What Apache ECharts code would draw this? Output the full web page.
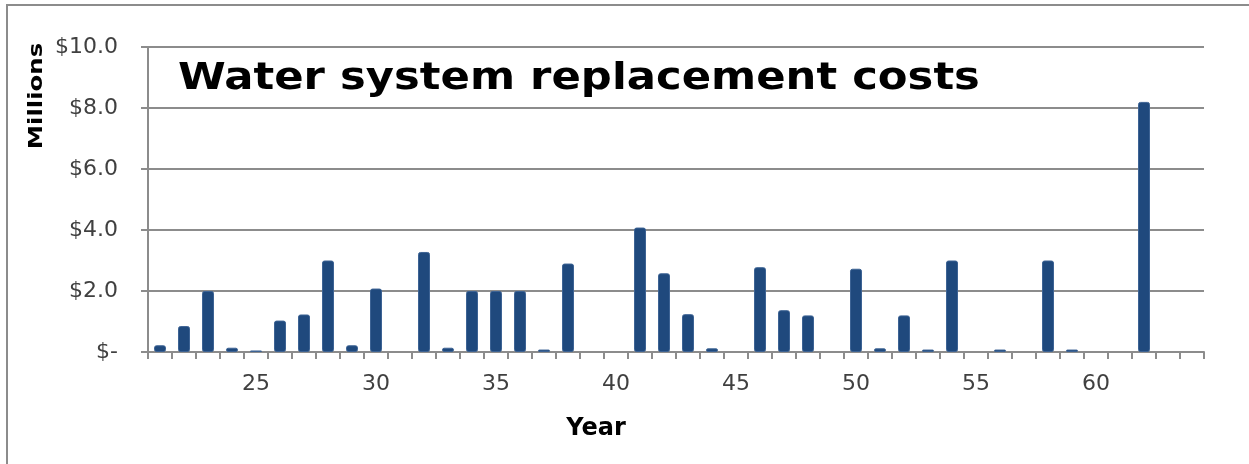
<!DOCTYPE html>
<html>
<head>
<meta charset="utf-8">
<script src="https://cdn.jsdelivr.net/npm/echarts@6/dist/echarts.min.js"></script>
<style>
  html, body { margin: 0; padding: 0; background: #fff; }
  #chart { width: 1249px; height: 464px; }
</style>
</head>
<body>
<div id="chart"></div>
<script>
// Years of the replacement schedule
const years = [21, 22, 23, 24, 25, 26, 27, 28, 29, 30, 31, 32, 33, 34, 35, 36, 37, 38, 39, 40, 41, 42,
               43, 44, 45, 46, 47, 48, 49, 50, 51, 52, 53, 54, 55, 56, 57, 58, 59, 60, 61, 62, 63, 64];
// Replacement cost per year, in millions of dollars
const costs = [0.22, 0.85, 2.0, 0.14, 0.05, 1.03, 1.23, 3.0, 0.22, 2.08, 0, 3.28, 0.14, 2.0, 2.0, 2.0, 0.08, 2.9, 0, 0, 4.08, 2.58,
               1.24, 0.12, 0, 2.78, 1.37, 1.2, 0, 2.73, 0.12, 1.2, 0.08, 3.0, 0, 0.08, 0, 3.0, 0.08, 0, 0, 8.2, 0, 0];
// Value axis ticks (millions)
const yTicks = [0, 2, 4, 6, 8, 10];

const FONT = 'DejaVu Sans';
const GRAY = '#8c8c8c';

const chart = echarts.init(document.getElementById('chart'), null, { renderer: 'canvas' });
chart.setOption({
  animation: false,
  backgroundColor: '#fff',
  grid: { left: 148, right: 45, top: 47, bottom: 112 },
  xAxis: {
    type: 'category',
    data: years,
    boundaryGap: true,
    axisLine: { lineStyle: { color: GRAY, width: 2 } },
    axisTick: { show: true, interval: 0, length: 7, lineStyle: { color: GRAY, width: 2 } },
    axisLabel: {
      interval: (i, v) => Number(v) % 5 === 0,
      margin: 21,
      fontFamily: FONT, fontSize: 22, color: '#404040'
    },
    splitLine: { show: false }
  },
  yAxis: {
    type: 'value',
    min: yTicks[0],
    max: yTicks[yTicks.length - 1],
    interval: yTicks[1] - yTicks[0],
    axisLine: { show: true, lineStyle: { color: GRAY, width: 2 } },
    axisTick: { show: true, length: 7, lineStyle: { color: GRAY, width: 2 } },
    axisLabel: {
      margin: 30,
      fontFamily: FONT, fontSize: 22, color: '#404040',
      formatter: v => v === 0 ? '$-' : '$' + v.toFixed(1)
    },
    splitLine: { show: true, lineStyle: { color: GRAY, width: 2 } }
  },
  series: [{
    type: 'bar',
    // years without spending draw no bar at all
    data: costs.map(v => (v === 0 ? null : v)),
    barWidth: 12,
    itemStyle: { color: '#1f497d', borderColor: '#3d6394', borderWidth: 1, borderRadius: 2 }
  }],
  graphic: [
    {
      type: 'rect',
      shape: { x: 7, y: 5, width: 1300, height: 600 },
      style: { fill: 'none', stroke: GRAY, lineWidth: 2 },
      silent: true, z: -1
    },
    {
      type: 'text',
      x: 178, y: 60, scaleX: 1.14,
      style: { text: 'Water system replacement costs', fontFamily: FONT, fontWeight: 'bold', fontSize: 38,
               fill: '#000', textAlign: 'left', textVerticalAlign: 'top' }
    },
    {
      type: 'text',
      x: 37, y: 96, rotation: Math.PI / 2, scaleX: 1.22,
      style: { text: 'Millions', fontFamily: FONT, fontWeight: 'bold', fontSize: 20, fill: '#000',
               textAlign: 'center', textVerticalAlign: 'middle' }
    },
    {
      type: 'text',
      x: 596, y: 429,
      style: { text: 'Year', fontFamily: FONT, fontWeight: 'bold', fontSize: 24, fill: '#000',
               textAlign: 'center', textVerticalAlign: 'middle' }
    }
  ]
});
</script>
</body>
</html>
